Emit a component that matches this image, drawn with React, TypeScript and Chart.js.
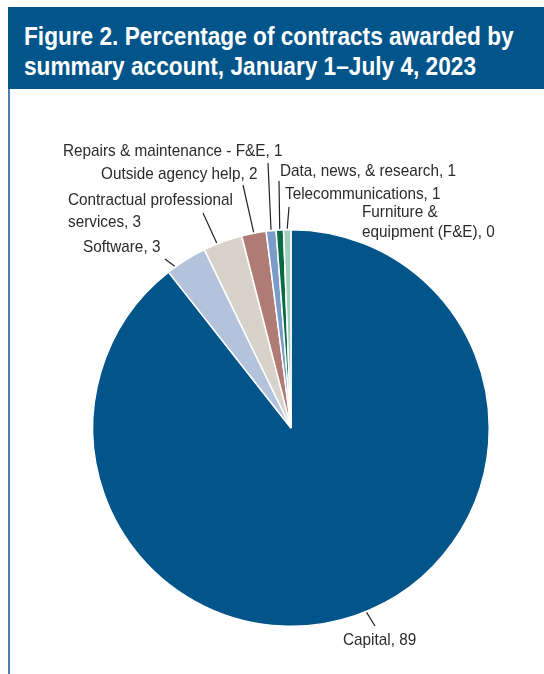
import React, { useEffect, useRef } from "react";
import { Chart, registerables } from "chart.js";

Chart.register(...registerables);

const TITLE_LINES = [
  "Figure 2. Percentage of contracts awarded by",
  "summary account, January 1\u2013July 4, 2023",
];

const CATEGORIES = [
  "Capital",
  "Software",
  "Contractual professional\nservices",
  "Outside agency help",
  "Repairs & maintenance - F&E",
  "Data, news, & research",
  "Telecommunications",
  "Furniture &\nequipment (F&E)",
];

const VALUES = [89.4, 3.4, 3.2, 2.0, 0.8, 0.6, 0.6, 0.0];

const COLORS = [
  "#02558b",
  "#b4c3dc",
  "#d8d3ca",
  "#b07b75",
  "#7b9cc8",
  "#0a6a46",
  "#a4cebd",
  "#c9c9c9",
];

// label placement (canvas coords), leader: arc fraction + end point
const LABEL_LAYOUT = [
  { frac: 0.49, end: [375, 626], tx: 343, ty: [640] },
  { frac: 0.2, end: [165, 259], tx: 83, ty: [247] },
  { frac: 0.35, end: [203, 213], tx: 68, ty: [200, 222] },
  { frac: 0.5, end: [243, 185], tx: 101, ty: [174] },
  { frac: 0.5, end: [268, 163], tx: 63, ty: [151] },
  { frac: 0.5, end: [279, 181], tx: 280, ty: [171] },
  { frac: 0.5, end: [289, 207], tx: 285, ty: [194] },
  { frac: 0.5, end: null, tx: 362, ty: [212, 232] },
];

const LABEL_FONT = '17px "Liberation Sans", Arial, sans-serif';
const LABEL_SQUEEZE = 0.9;

const labelPlugin = {
  id: "sliceLabels",
  afterDatasetsDraw(chart: any) {
    const ctx = chart.ctx;
    const meta = chart.getDatasetMeta(0);
    ctx.save();
    meta.data.forEach((arc: any, i: number) => {
      const lay = LABEL_LAYOUT[i];
      if (!lay) return;
      const p = arc.getProps(["x", "y", "startAngle", "endAngle", "outerRadius"], true);
      if (lay.end) {
        const a = p.startAngle + (p.endAngle - p.startAngle) * lay.frac;
        const r = p.outerRadius + 1;
        ctx.beginPath();
        ctx.moveTo(p.x + Math.cos(a) * r, p.y + Math.sin(a) * r);
        ctx.lineTo(lay.end[0], lay.end[1]);
        ctx.strokeStyle = "#222222";
        ctx.lineWidth = 1.2;
        ctx.stroke();
      }
      const text = `${CATEGORIES[i]}, ${Math.round(VALUES[i])}`;
      const lines = text.split("\n");
      ctx.font = LABEL_FONT;
      ctx.fillStyle = "#2b2b2b";
      ctx.textAlign = "left";
      ctx.textBaseline = "middle";
      lines.forEach((ln, k) => {
        ctx.save();
        ctx.translate(lay.tx, lay.ty[k]);
        ctx.scale(LABEL_SQUEEZE, 1);
        ctx.fillText(ln, 0, 0);
        ctx.restore();
      });
    });
    ctx.restore();
  },
};

export default function App() {
  const ref = useRef<HTMLCanvasElement | null>(null);

  useEffect(() => {
    if (!ref.current) return;
    const chart = new Chart(ref.current, {
      type: "pie",
      data: {
        labels: CATEGORIES,
        datasets: [
          {
            data: VALUES,
            backgroundColor: COLORS,
            borderColor: "#ffffff",
            borderWidth: 1.5,
          },
        ],
      },
      options: {
        responsive: false,
        animation: false,
        layout: { padding: { left: 92, right: 54, top: 229, bottom: 47 } },
        plugins: {
          legend: { display: false },
          tooltip: { enabled: false },
          title: { display: false },
        },
      },
      plugins: [labelPlugin],
    });
    return () => chart.destroy();
  }, []);

  return (
    <div>
      <canvas
        ref={ref}
        width={544}
        height={674}
        style={{ position: "fixed", left: 0, top: 0, width: 544, height: 674 }}
      />
      <div
        style={{
          position: "fixed",
          left: 8,
          top: 7,
          width: 536,
          height: 82,
          background: "#02558b",
          color: "#ffffff",
          boxSizing: "border-box",
          paddingLeft: 16,
          paddingTop: 14,
          fontFamily: '"Liberation Sans", Arial, sans-serif',
          fontWeight: "bold",
          fontSize: 25,
          lineHeight: "30px",
          whiteSpace: "nowrap",
          overflow: "hidden",
        }}
      >
        {TITLE_LINES.map((t, i) => (
          <div key={i} style={{ transform: "scaleX(0.906)", transformOrigin: "left center" }}>
            {t}
          </div>
        ))}
      </div>
      <div
        style={{
          position: "fixed",
          left: 8,
          top: 89,
          width: 2,
          height: 585,
          background: "#4a7fb0",
        }}
      />
    </div>
  );
}
